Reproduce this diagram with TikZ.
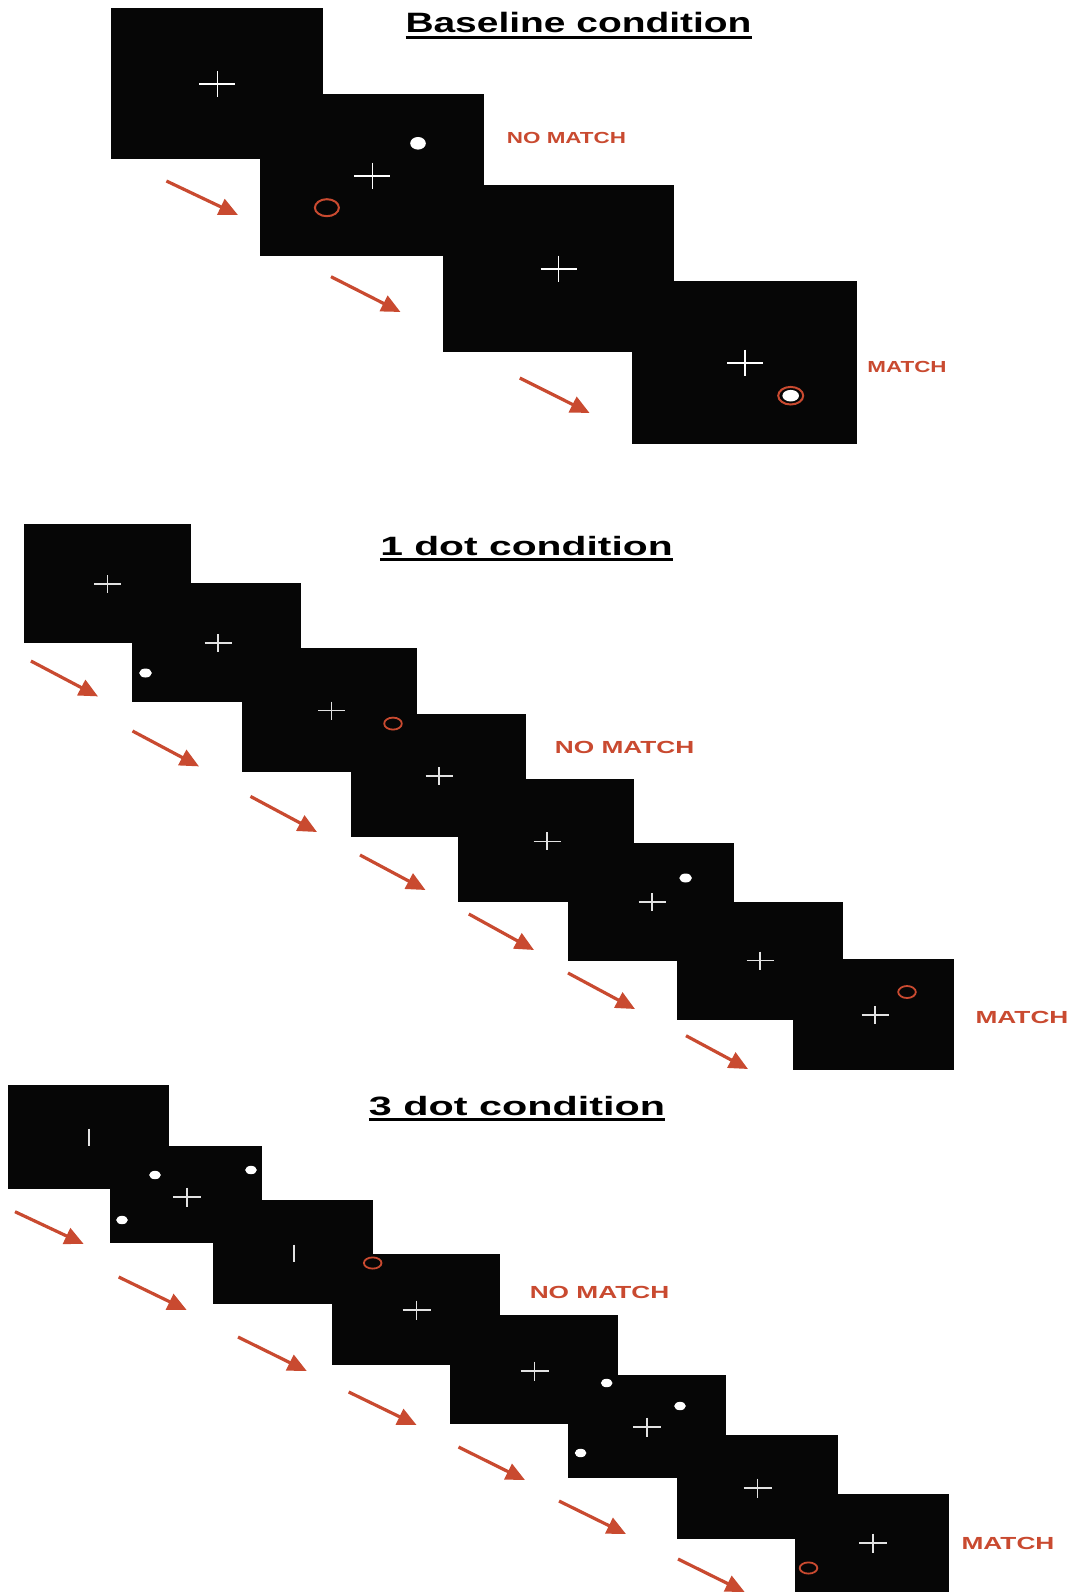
\documentclass[tikz,border=0pt]{standalone}
\usepackage{fontspec}
\setmainfont{Liberation Sans}
\usepackage{graphicx}
\usetikzlibrary{arrows.meta}
\definecolor{cuered}{HTML}{C94A30}
\definecolor{screenblack}{HTML}{060606}
\definecolor{crossgrey}{HTML}{E2E2E2}
\newcommand{\widetext}[2]{\scalebox{#1}[1]{#2}}

\begin{document}
\begin{tikzpicture}[
  x=1pt,y=-1pt,
  every node/.style={inner sep=0pt,outer sep=0pt},
  screen/.style={fill=screenblack,anchor=north west},
  heading/.style={anchor=base,font=\fontsize{26.5}{28}\selectfont\bfseries,text=black},
  headrule/.style={line width=2.6pt,black},
  cue/.style={font=\fontsize{17.5}{19}\selectfont\bfseries,text=cuered},
  cuearrow/.style={-{Triangle[length=19pt,width=17pt]},line width=3.2pt,color=cuered},
  fixation/.style={draw=crossgrey,line width=1.3pt},
  ring/.style={draw=cuered,line width=2pt},
  probe/.style={fill=white}
]
\useasboundingbox[fill=white] (0,0) rectangle (1076,1592);

% screens: name / top left / bottom right
\foreach \n/\xa/\ya/\xb/\yb in {
  b1/111/8/323/159, b2/260/94/484/256, b3/443/185/674/352, b4/632/281/857/444,
  d1/24/524/191/643, d2/132/583/301/702, d3/242/648/417/772, d4/351/714/526/837,
  d5/458/779/634/902, d6/568/843/734/961, d7/677/902/843/1020, d8/793/959/954/1070,
  t1/8/1085/169/1189, t2/110/1146/262/1243, t3/213/1200/373/1304, t4/332/1254/500/1365,
  t5/450/1315/618/1424, t6/568/1375/726/1478, t7/677/1435/838/1539, t8/795/1494/949/1592}
  \node[screen,minimum width={\xb pt-\xa pt},minimum height={\yb pt-\ya pt}] (\n) at (\xa,\ya) {};

% headings
\node[heading,font=\fontsize{28}{30}\selectfont\bfseries] (basehead) at (578.5,33) {\widetext{1.39}{Baseline condition}};
\node[heading] (onehead) at (526.5,555) {\widetext{1.54}{1 dot condition}};
\node[heading] (threehead) at (517,1115) {\widetext{1.56}{3 dot condition}};
\foreach \h in {basehead,onehead,threehead}
  \draw[headrule] ([yshift=-4.5pt]\h.base west) -- ([yshift=-4.5pt]\h.base east);

% cue labels
\node[cue,font=\fontsize{16}{18}\selectfont\bfseries] (basenomatch) at (566.5,138) {\widetext{1.4}{NO MATCH}};
\node[cue,font=\fontsize{16}{18}\selectfont\bfseries] (basematch) at (907,366.5) {\widetext{1.4}{MATCH}};
\node[cue] (onenomatch) at (624.6,747.7) {\widetext{1.5}{NO MATCH}};
\node[cue] (onematch) at (1022,1017.5) {\widetext{1.5}{MATCH}};
\node[cue] (threenomatch) at (599.5,1292) {\widetext{1.5}{NO MATCH}};
\node[cue] (threematch) at (1008,1543) {\widetext{1.5}{MATCH}};

% fixation crosses
\foreach \x/\y in {217.3/84, 372.4/175.7, 558.6/268.7, 745.2/362.7}
  \draw[fixation,draw=white,line width=1.6pt] (\x-18,\y) -- (\x+18,\y) (\x,\y-13) -- (\x,\y+13);
\foreach \x/\y in {107.8/584, 218/643, 331.5/710.7, 439/776, 547/841.4, 652/902, 760/960.7, 875/1015}
  \draw[fixation] (\x-13.5,\y) -- (\x+13.5,\y) (\x,\y-9) -- (\x,\y+9);
\foreach \x/\y in {187/1197, 416.6/1310, 534.7/1371, 647/1427, 757.7/1488, 873/1543}
  \draw[fixation] (\x-14,\y) -- (\x+14,\y) (\x,\y-9.5) -- (\x,\y+9.5);
\foreach \x/\y in {89/1137, 294/1253}
  \draw[fixation] (\x,\y-8.5) -- (\x,\y+8.5);

% dots and rings
\fill[probe] (418,143.3) ellipse [x radius=7.8pt,y radius=6.3pt];
\draw[ring] (326.9,207.7) ellipse [x radius=12pt,y radius=8.5pt];
\draw[ring] (790.7,395.7) ellipse [x radius=12.5pt,y radius=8.8pt];
\fill[probe] (790.7,395.7) ellipse [x radius=8.3pt,y radius=5.8pt];
\foreach \x/\y in {145.5/673, 685.6/878}
  \fill[probe] (\x,\y) ellipse [x radius=6.3pt,y radius=4.5pt];
\foreach \x/\y in {393/723.6, 907/992}
  \draw[ring,line width=1.8pt] (\x,\y) ellipse [x radius=8.8pt,y radius=6pt];
\foreach \x/\y in {155/1175, 251/1170, 122/1220, 606.7/1383, 680/1406, 580.6/1453}
  \fill[probe] (\x,\y) ellipse [x radius=5.8pt,y radius=4.2pt];
\foreach \x/\y in {372.7/1263, 808.5/1568}
  \draw[ring,line width=1.8pt] (\x,\y) ellipse [x radius=8.8pt,y radius=5.6pt];

% arrows between screens
\foreach \i/\xa/\ya/\xb/\yb in {
  ba/166.4/181/238/215, bb/331/276.7/400.5/312, bc/519.8/378/589.6/413,
  da/30.9/661/98/696.4, db/132.5/731/199/766.4, dc/250.5/796.4/317/832,
  dd/360/855/425.5/890, de/468.8/914/534/950, df/568/973/635/1009, dg/686/1035.7/748/1069,
  ta/15/1211.7/83.7/1244, tb/118.7/1277/186.7/1310, tc/238/1337/306.8/1371,
  td/348.7/1392/416.6/1425, te/458.5/1447/525/1480, tf/559/1501/626/1534, tg/678/1559/744.7/1592}
{
  \coordinate (\i-from) at (\xa,\ya);
  \coordinate (\i-to) at (\xb,\yb);
  \draw[cuearrow] (\i-from) -- (\i-to);
}
\end{tikzpicture}
\end{document}
